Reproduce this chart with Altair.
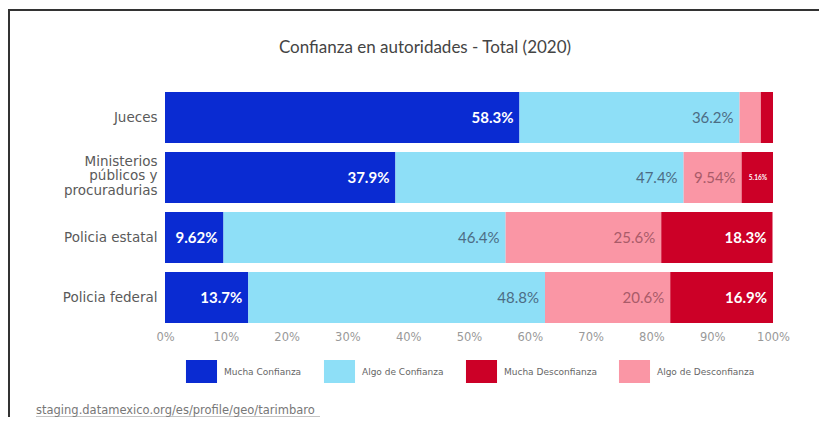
import altair as alt
import pandas as pd

# ---- data ----
categorias = ["Jueces", "Ministerios públicos y procuradurias", "Policia estatal", "Policia federal"]
series_stack = ["Mucha Confianza", "Algo de Confianza", "Algo de Desconfianza", "Mucha Desconfianza"]
series_legend = ["Mucha Confianza", "Algo de Confianza", "Mucha Desconfianza", "Algo de Desconfianza"]
colores_legend = ["#0a2bd2", "#8edff7", "#cc0027", "#fa96a5"]

mucha_confianza = [58.3, 37.9, 9.62, 13.7]
algo_confianza = [36.2, 47.4, 46.4, 48.8]
algo_desconfianza = [3.5, 9.54, 25.6, 20.6]
mucha_desconfianza = [2.0, 5.16, 18.3, 16.9]

x_ticks = [0, 10, 20, 30, 40, 50, 60, 70, 80, 90, 100]
titulo = "Confianza en autoridades - Total (2020)"
fuente = "staging.datamexico.org/es/profile/geo/tarimbaro"

valores = {
    "Mucha Confianza": mucha_confianza,
    "Algo de Confianza": algo_confianza,
    "Algo de Desconfianza": algo_desconfianza,
    "Mucha Desconfianza": mucha_desconfianza,
}

rows = []
for s_i, s in enumerate(series_stack):
    for c, v in zip(categorias, valores[s]):
        rows.append({"autoridad": c, "serie": s, "orden": s_i, "value": v})
df = pd.DataFrame(rows)

base = alt.Chart(df).transform_window(
    end="sum(value)", groupby=["autoridad"], sort=[alt.SortField("orden")], frame=[None, 0]
).transform_calculate(
    start="datum.end - datum.value",
    label="format(datum.value, '.3r') + '%'",
)

multi = "Ministerios públicos y procuradurias"

y_enc = alt.Y(
    "autoridad:N",
    sort=categorias,
    title=None,
    scale=alt.Scale(paddingInner=0.15, paddingOuter=0),
    axis=alt.Axis(
        domain=False, ticks=False, labelPadding=8, labelLimit=300,
        labelFont="DejaVu Sans", labelFontSize=13.5, labelColor="#5a5a5a",
        labelLineHeight=14.5,
        labelOffset={"condition": {"test": f"datum.value == '{multi}'", "value": -16}, "value": 0},
        labelExpr=f"datum.label == '{multi}' ? ['Ministerios', 'públicos y', 'procuradurias'] : datum.label",
    ),
)

x_scale = alt.Scale(domain=[0, 100], nice=False)

sym_path = "M-1.35,-1L1.35,-1L1.35,1L-1.35,1Z"

bars = base.mark_bar().encode(
    x=alt.X(
        "start:Q", scale=x_scale, title=None,
        axis=alt.Axis(
            values=x_ticks, domain=False, ticks=False, grid=False, labelPadding=8,
            labelFlush=False,
            labelFont="DejaVu Sans", labelFontSize=11.5, labelColor="#999",
            labelExpr="datum.value + '%'",
        ),
    ),
    x2="end:Q",
    y=y_enc,
    color=alt.Color(
        "serie:N",
        scale=alt.Scale(domain=series_legend, range=colores_legend),
        legend=alt.Legend(
            title=None, orient="none", legendX=25, legendY=268, direction="horizontal",
            symbolType=sym_path, symbolSize=529, symbolStrokeWidth=0, symbolOpacity=1,
            labelFont="DejaVu Sans", labelFontSize=9, labelColor="#666",
            labelOffset=11, columnPadding=21, padding=0,
        ),
    ),
)

labels_bold = base.transform_filter(
    "(datum.serie == 'Mucha Confianza' || datum.serie == 'Mucha Desconfianza') && datum.value >= 5"
).mark_text(
    align="right", baseline="middle", dx=-6, font="Lato", fontWeight="bold"
).encode(
    x=alt.X("end:Q", scale=x_scale),
    y=alt.Y("autoridad:N", sort=categorias),
    text="label:N",
    color=alt.value("white"),
    size=alt.condition("datum.value < 6", alt.value(6.5), alt.value(15)),
)

labels_reg = base.transform_filter(
    "(datum.serie == 'Algo de Confianza' || datum.serie == 'Algo de Desconfianza') && datum.value >= 5"
).mark_text(
    align="right", baseline="middle", dx=-6, font="Lato", fontSize=15
).encode(
    x=alt.X("end:Q", scale=x_scale),
    y=alt.Y("autoridad:N", sort=categorias),
    text="label:N",
    color=alt.condition("datum.serie == 'Algo de Confianza'", alt.value("#4c6c84"), alt.value("#a95b69")),
)

one = alt.Chart(pd.DataFrame({"k": [0]}))

title_text = one.mark_text(
    align="center", baseline="alphabetic", font="Lato", fontSize=17, color="#444"
).encode(x=alt.value(260), y=alt.value(-39), text=alt.value(titulo))

frame_left = one.mark_rule(color="#333", strokeWidth=2).encode(
    x=alt.value(-156), y=alt.value(-82), y2=alt.value(345)
)
frame_top = one.mark_rule(color="#333", strokeWidth=2).encode(
    x=alt.value(-157), x2=alt.value(700), y=alt.value(-82)
)
source_text = one.mark_text(
    align="left", baseline="alphabetic", font="DejaVu Sans", fontSize=11.5, color="#777"
).encode(x=alt.value(-129), y=alt.value(322), text=alt.value(fuente))
source_line = one.mark_rule(color="#888", strokeWidth=1).encode(
    x=alt.value(-129), x2=alt.value(155), y=alt.value(325)
)

chart = alt.layer(
    bars, labels_bold, labels_reg, title_text, frame_left, frame_top, source_text, source_line
).properties(
    width=608,
    height=231,
    autosize=alt.AutoSizeParams(type="none"),
    padding={"left": 157, "top": 84, "right": 46, "bottom": 94},
).configure_view(stroke=None)

chart.save("out.html", embed_options={"renderer": "svg", "actions": False})
